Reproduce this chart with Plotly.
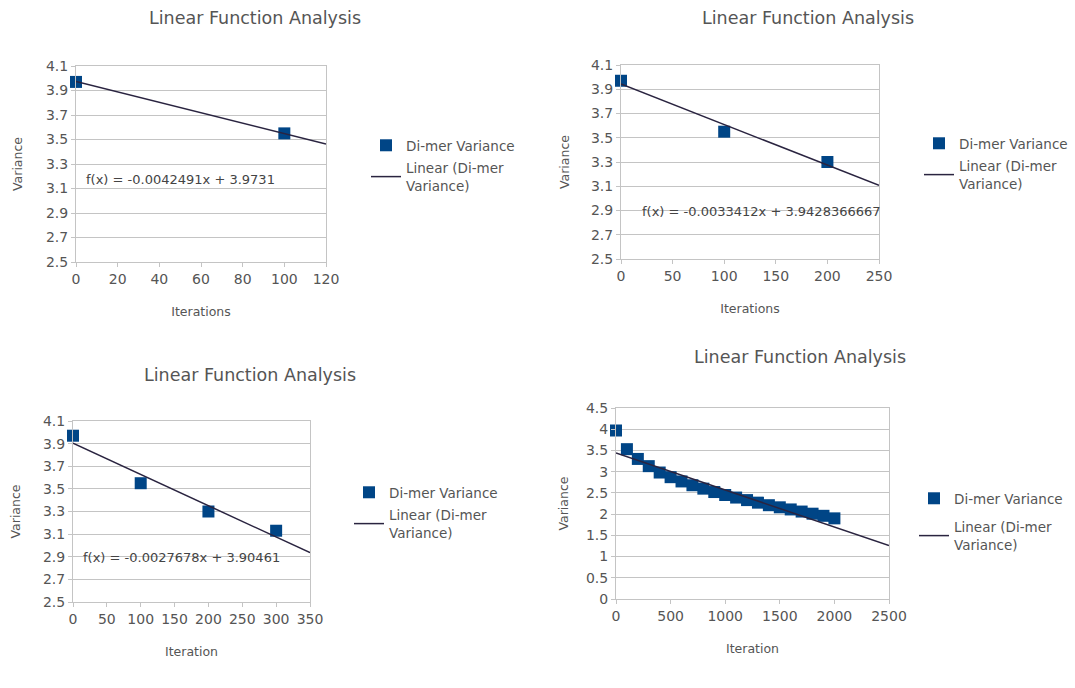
import plotly.graph_objects as go

# ---- data ----
iter_a = [0, 100]
var_a = [3.97, 3.55]
slope_a, icpt_a = -0.0042491, 3.9731
eq_a = "f(x) = -0.0042491x + 3.9731"

iter_b = [0, 100, 200]
var_b = [3.97, 3.55, 3.30]
slope_b, icpt_b = -0.0033412, 3.9428366667
eq_b = "f(x) = -0.0033412x + 3.9428366667"

iter_c = [0, 100, 200, 300]
var_c = [3.97, 3.55, 3.30, 3.13]
slope_c, icpt_c = -0.0027678, 3.90461
eq_c = "f(x) = -0.0027678x + 3.90461"

iter_d = [0, 100, 200, 300, 400, 500, 600, 700, 800, 900, 1000,
          1100, 1200, 1300, 1400, 1500, 1600, 1700, 1800, 1900, 2000]
var_d = [3.97, 3.53, 3.30, 3.13, 2.98, 2.87, 2.77, 2.68, 2.60, 2.52, 2.45,
         2.39, 2.33, 2.27, 2.21, 2.16, 2.11, 2.06, 2.01, 1.96, 1.90]
slope_d, icpt_d = -0.0008739788, 3.4427135931
eq_d = "f(x) = -0.0008739788x + 3.4427135931"

title_text = "Linear Function Analysis"
series_name = "Di-mer Variance"
trend_name = "Linear (Di-mer<br>Variance)"

# ---- styling ----
FONT = "DejaVu Sans"
MARK = "#004586"
LINE = "#2a2440"
GRID = "#c4c4c4"
TXT = "#555555"

W, H = 1075, 688

panels = [
    dict(x=iter_a, y=var_a, m=slope_a, b=icpt_a, eq=eq_a, xmax=120, dx=20,
         yr=[2.5, 4.1], dy=0.2, t0=2.5, px=(76, 326), py=(66, 262), xt="Iterations",
         title_xy=(255, 18), leg_xy=(366, 130), eq_xy=(4, 3.17), lfmt=".1f", gap=2, ys=20),
    dict(x=iter_b, y=var_b, m=slope_b, b=icpt_b, eq=eq_b, xmax=250, dx=50,
         yr=[2.5, 4.1], dy=0.2, t0=2.5, px=(621, 879), py=(65, 259), xt="Iterations",
         title_xy=(808, 18), leg_xy=(919, 128), eq_xy=(18, 2.89), lfmt=".1f", gap=2, ys=18),
    dict(x=iter_c, y=var_c, m=slope_c, b=icpt_c, eq=eq_c, xmax=350, dx=50,
         yr=[2.5, 4.1], dy=0.2, t0=2.5, px=(73, 310), py=(421, 602), xt="Iteration",
         title_xy=(250, 375), leg_xy=(349, 477), eq_xy=(12, 2.89), lfmt=".1f", gap=2, ys=19),
    dict(x=iter_d, y=var_d, m=slope_d, b=icpt_d, eq=eq_d, xmax=2500, dx=500,
         yr=[0, 4.5], dy=0.5, t0=0, px=(616, 889), py=(408, 599), xt="Iteration",
         title_xy=(800, 357), leg_xy=(914, 483), eq_xy=(-40, 0.37), lfmt="", gap=8, ys=14),
]

fig = go.Figure()
layout = dict(width=W, height=H, autosize=False,
              margin=dict(l=0, r=0, t=0, b=0, pad=0, autoexpand=False),
              paper_bgcolor="white", plot_bgcolor="white",
              font=dict(family=FONT, color=TXT, size=12))
annotations = []

for i, p in enumerate(panels, start=1):
    xa = "x" if i == 1 else f"x{i}"
    ya = "y" if i == 1 else f"y{i}"
    lg = "legend" if i == 1 else f"legend{i}"
    fig.add_trace(go.Scatter(
        x=p["x"], y=p["y"], mode="markers", name=series_name,
        marker=dict(symbol="square", size=12, color=MARK),
        cliponaxis=False, legendgroup=f"m{i}",
        xaxis=xa, yaxis=ya, legend=lg))
    fx = [0, p["xmax"]]
    fy = [p["b"] + p["m"] * v for v in fx]
    fig.add_trace(go.Scatter(
        x=fx, y=fy, mode="lines", name=trend_name,
        line=dict(color=LINE, width=1.5), legendgroup=f"t{i}",
        xaxis=xa, yaxis=ya, legend=lg))

    x0, x1 = p["px"]
    y0, y1 = p["py"]
    xkey = "xaxis" if i == 1 else f"xaxis{i}"
    ykey = "yaxis" if i == 1 else f"yaxis{i}"
    layout[xkey] = dict(
        domain=[x0 / W, x1 / W], anchor=ya, range=[0, p["xmax"]],
        dtick=p["dx"], tick0=0, showgrid=False, zeroline=False, automargin=False,
        showline=True, linecolor=GRID, mirror=True, ticks="outside",
        ticklen=4, tickcolor=GRID, tickfont=dict(size=14, color=TXT),
        title=dict(text=p["xt"], font=dict(size=12.5, color=TXT), standoff=21))
    layout[ykey] = dict(
        domain=[1 - y1 / H, 1 - y0 / H], anchor=xa, range=p["yr"],
        dtick=p["dy"], tick0=p["t0"], showgrid=True, gridcolor=GRID, zeroline=False,
        automargin=False,
        showline=True, linecolor=GRID, mirror=True, ticks="outside",
        ticklen=4, tickcolor=GRID, tickfont=dict(size=14, color=TXT),
        tickformat=p["lfmt"],
        title=dict(text="Variance", font=dict(size=12.5, color=TXT), standoff=p["ys"]))
    lx, ly = p["leg_xy"]
    layout[lg] = dict(x=lx / W, y=1 - ly / H, xanchor="left", yanchor="top",
                      bgcolor="rgba(0,0,0,0)", font=dict(size=13.5, color=TXT),
                      tracegroupgap=p["gap"], itemwidth=30)
    tx, ty = p["title_xy"]
    annotations.append(dict(text=title_text, x=tx / W, y=1 - ty / H,
                            xref="paper", yref="paper", showarrow=False,
                            xanchor="center", yanchor="middle",
                            font=dict(size=17.5, color="#555")))
    ex, ey = p["eq_xy"]
    annotations.append(dict(text=p["eq"], x=ex, y=ey, xref=xa, yref=ya,
                            showarrow=False, xanchor="left", yanchor="middle",
                            font=dict(size=13, color="#444")))

layout["annotations"] = annotations
layout["showlegend"] = True
fig.update_layout(**layout)
fig.write_html("out.html", config={"displayModeBar": False},
               post_script="document.body.style.margin='0';document.body.style.overflow='hidden';")
